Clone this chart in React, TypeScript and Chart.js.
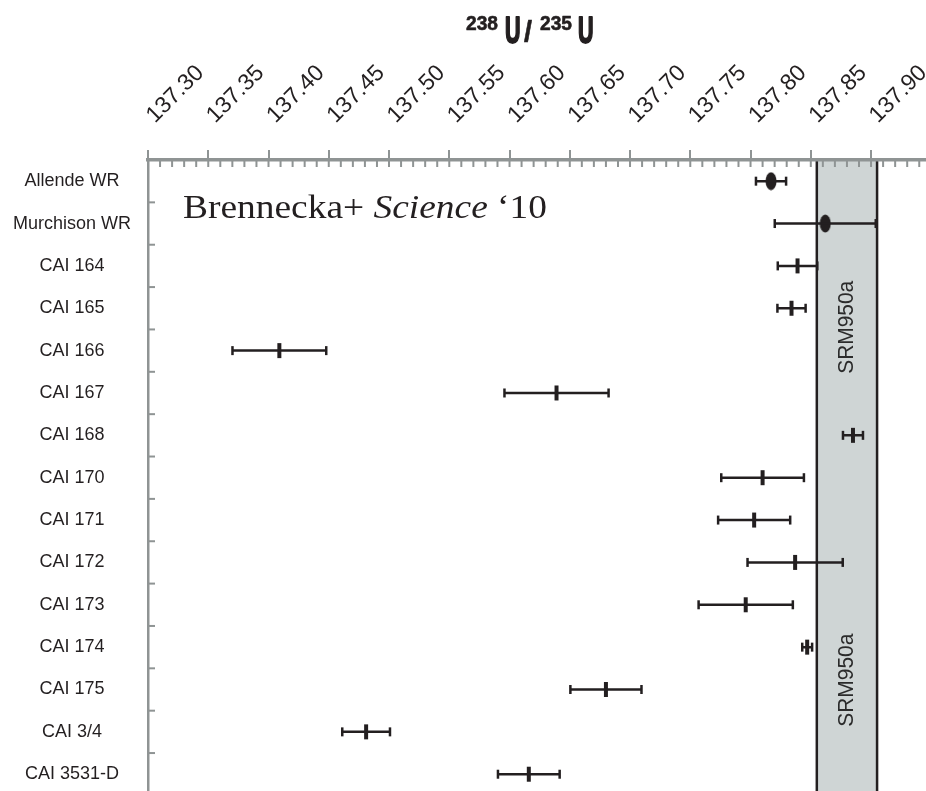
import React, { useEffect, useRef } from 'react';
import { Chart, registerables } from 'chart.js';

Chart.register(...registerables);

// ---------- data ----------
const categories = [
  'Allende WR', 'Murchison WR', 'CAI 164', 'CAI 165', 'CAI 166', 'CAI 167', 'CAI 168',
  'CAI 170', 'CAI 171', 'CAI 172', 'CAI 173', 'CAI 174', 'CAI 175', 'CAI 3/4', 'CAI 3531-D',
];
const ratioMeans = [
  137.817, 137.862, 137.839, 137.834, 137.409, 137.639, 137.885,
  137.810, 137.803, 137.837, 137.796, 137.847, 137.680, 137.481, 137.616,
];
const ratioErrors = [
  0.0125, 0.0419, 0.0164, 0.0117, 0.0389, 0.0432, 0.0083,
  0.0343, 0.0299, 0.0395, 0.0391, 0.0041, 0.0295, 0.0198, 0.0256,
];
const wholeRock = [true, true, false, false, false, false, false, false, false, false, false, false, false, false, false];
const xTickValues = [137.30, 137.35, 137.40, 137.45, 137.50, 137.55, 137.60, 137.65, 137.70, 137.75, 137.80, 137.85, 137.90];
const srmBand = [137.855, 137.905];
const srmLabel = 'SRM950a';
const annotation = ['Brennecka+ ', 'Science', ' \u201810'];

// ---------- styles ----------
const INK = '#231f20';
const AXIS_GRAY = '#8f9494';
const BAND_FILL = '#cfd5d5';
const SANS = "'Liberation Sans', Arial, sans-serif";
const SERIF = "'Liberation Serif', 'DejaVu Serif', serif";

function fitText(ctx: CanvasRenderingContext2D, text: string, x: number, baseline: number, font: string, width: number, stroke = 0) {
  ctx.font = font;
  const w = ctx.measureText(text).width;
  ctx.save();
  ctx.translate(x, baseline);
  ctx.scale(width / w, 1);
  ctx.fillText(text, 0, 0);
  if (stroke > 0) {
    ctx.lineWidth = stroke;
    ctx.strokeStyle = ctx.fillStyle as string;
    ctx.lineJoin = 'round';
    ctx.strokeText(text, 0, 0);
  }
  ctx.restore();
}

const decorPlugin = {
  id: 'decor',
  beforeDraw(chart: any) {
    const { ctx, chartArea, scales } = chart;
    const x = scales.x;
    const y = scales.y;
    const x0 = x.getPixelForValue(srmBand[0]);
    const x1 = x.getPixelForValue(srmBand[1]);
    ctx.save();
    ctx.fillStyle = BAND_FILL;
    ctx.fillRect(x0, chartArea.top, x1 - x0, chartArea.bottom - chartArea.top);
    ctx.strokeStyle = INK;
    ctx.lineWidth = 2.5;
    for (const xx of [x0, x1]) {
      ctx.beginPath();
      ctx.moveTo(xx, chartArea.top);
      ctx.lineTo(xx, chartArea.bottom);
      ctx.stroke();
    }
    // band labels
    ctx.fillStyle = '#2b2b2b';
    ctx.textAlign = 'center';
    ctx.textBaseline = 'middle';
    const cx = (x0 + x1) / 2;
    for (const row of [3.45, 11.78]) {
      const cy = y.getPixelForValue(row);
      ctx.save();
      ctx.translate(cx, cy);
      ctx.rotate(-Math.PI / 2);
      ctx.font = `22px ${SANS}`;
      const w = ctx.measureText(srmLabel).width;
      ctx.scale(93 / w, 1);
      ctx.fillText(srmLabel, 0, 0);
      ctx.restore();
    }
    ctx.restore();
  },
  afterDraw(chart: any) {
    const { ctx, chartArea, scales } = chart;
    const x = scales.x;
    const y = scales.y;
    ctx.save();
    // minor ticks on top axis, every 0.01
    ctx.strokeStyle = AXIS_GRAY;
    ctx.lineWidth = 2;
    for (let k = 1; ; k++) {
      const v = xTickValues[0] + k * 0.01;
      const px = x.getPixelForValue(v);
      if (px > chartArea.right - 1) break;
      ctx.beginPath();
      ctx.moveTo(px, chartArea.top);
      ctx.lineTo(px, chartArea.top + 7);
      ctx.stroke();
    }
    // tick marks between categories on the left axis
    for (let i = 0; i < categories.length - 1; i++) {
      const py = y.getPixelForValue(i + 0.5);
      ctx.beginPath();
      ctx.moveTo(chartArea.left, py);
      ctx.lineTo(chartArea.left + 7, py);
      ctx.stroke();
    }
    // axis title 238U / 235U
    ctx.fillStyle = INK;
    ctx.textAlign = 'left';
    ctx.textBaseline = 'alphabetic';
    fitText(ctx, '238', 466, 30, `bold 21px ${SANS}`, 32, 0.6);
    fitText(ctx, 'U', 505, 43, `bold 36px ${SANS}`, 15.5, 2);
    fitText(ctx, '/', 524, 42, `bold 30px ${SANS}`, 8, 0.6);
    fitText(ctx, '235', 540, 30, `bold 21px ${SANS}`, 32, 0.6);
    fitText(ctx, 'U', 578, 43, `bold 36px ${SANS}`, 15.5, 2);
    // annotation
    const fonts = [`34px ${SERIF}`, `italic 34px ${SERIF}`, `34px ${SERIF}`];
    let total = 0;
    const widths = annotation.map((t, i) => {
      ctx.font = fonts[i];
      const w = ctx.measureText(t).width;
      total += w;
      return w;
    });
    const s = 364 / total;
    ctx.save();
    ctx.translate(183, 218);
    ctx.scale(s, 1);
    let cur = 0;
    annotation.forEach((t, i) => {
      ctx.font = fonts[i];
      ctx.fillText(t, cur, 0);
      cur += widths[i];
    });
    ctx.restore();
    ctx.restore();
  },
};

export default function App() {
  const ref = useRef<HTMLCanvasElement>(null);
  useEffect(() => {
    const ell = document.createElement('canvas');
    ell.width = 12;
    ell.height = 19;
    const ec = ell.getContext('2d')!;
    ec.fillStyle = INK;
    ec.beginPath();
    ec.ellipse(6, 9.5, 5.5, 9, 0, 0, Math.PI * 2);
    ec.fill();

    const lineData: any[] = [];
    const capData: any[] = [];
    const caiData: any[] = [];
    const wrData: any[] = [];
    categories.forEach((_, i) => {
      const lo = ratioMeans[i] - ratioErrors[i];
      const hi = ratioMeans[i] + ratioErrors[i];
      lineData.push({ x: lo, y: i }, { x: hi, y: i }, { x: NaN, y: NaN });
      capData.push({ x: lo, y: i }, { x: hi, y: i });
      (wholeRock[i] ? wrData : caiData).push({ x: ratioMeans[i], y: i });
    });

    const chart = new Chart(ref.current!, {
      type: 'scatter',
      data: {
        datasets: [
          {
            data: lineData,
            showLine: true,
            spanGaps: false,
            borderColor: INK,
            borderWidth: 2.5,
            pointRadius: 0,
          },
          {
            data: capData,
            pointStyle: 'line',
            rotation: 90,
            pointRadius: 4.5,
            borderColor: INK,
            borderWidth: 2.5,
          },
          {
            data: caiData,
            pointStyle: 'line',
            rotation: 90,
            pointRadius: 7.5,
            borderColor: INK,
            borderWidth: 4,
          },
          {
            data: wrData,
            pointStyle: ell as any,
            pointRadius: 9,
          },
        ] as any,
      },
      options: {
        animation: false,
        responsive: false,
        devicePixelRatio: 1,
        events: [],
        layout: { padding: 0, autoPadding: false },
        plugins: { legend: { display: false }, tooltip: { enabled: false }, title: { display: false } },
        scales: {
          x: {
            type: 'linear',
            position: 'top',
            min: xTickValues[0],
            max: 137.9456,
            afterBuildTicks: (s: any) => {
              s.ticks = xTickValues.map((v) => ({ value: v }));
            },
            afterFit: (s: any) => {
              s.height = 160;
              s.paddingLeft = 0;
              s.paddingRight = 0;
            },
            ticks: {
              autoSkip: false,
              minRotation: 45,
              maxRotation: 45,
              padding: 21,
              labelOffset: 22,
              color: INK,
              font: { family: SANS, size: 23 },
              callback: (v: any) => Number(v).toFixed(2),
            },
            grid: { drawOnChartArea: false, drawTicks: true, tickLength: 10, color: AXIS_GRAY, lineWidth: 2 },
            border: { display: true, color: AXIS_GRAY, width: 3.5 },
          },
          y: {
            type: 'linear',
            reverse: true,
            min: -0.5,
            max: 14.396,
            afterBuildTicks: (s: any) => {
              s.ticks = categories.map((_, i) => ({ value: i }));
            },
            afterFit: (s: any) => {
              s.width = 148;
              s.paddingTop = 0;
              s.paddingBottom = 0;
            },
            ticks: {
              autoSkip: false,
              crossAlign: 'center',
              padding: 17,
              color: INK,
              font: { family: SANS, size: 18 },
              callback: (v: any) => categories[v] ?? '',
            },
            grid: { display: false, drawTicks: false },
            border: { display: true, color: AXIS_GRAY, width: 2.5 },
          },
        },
      } as any,
      plugins: [decorPlugin],
    });
    return () => chart.destroy();
  }, []);
  return (
    <div style={{ position: 'fixed', left: 0, top: 0, width: 926, height: 791, background: '#fff' }}>
      <canvas ref={ref} width={926} height={791} style={{ display: 'block' }} />
    </div>
  );
}
